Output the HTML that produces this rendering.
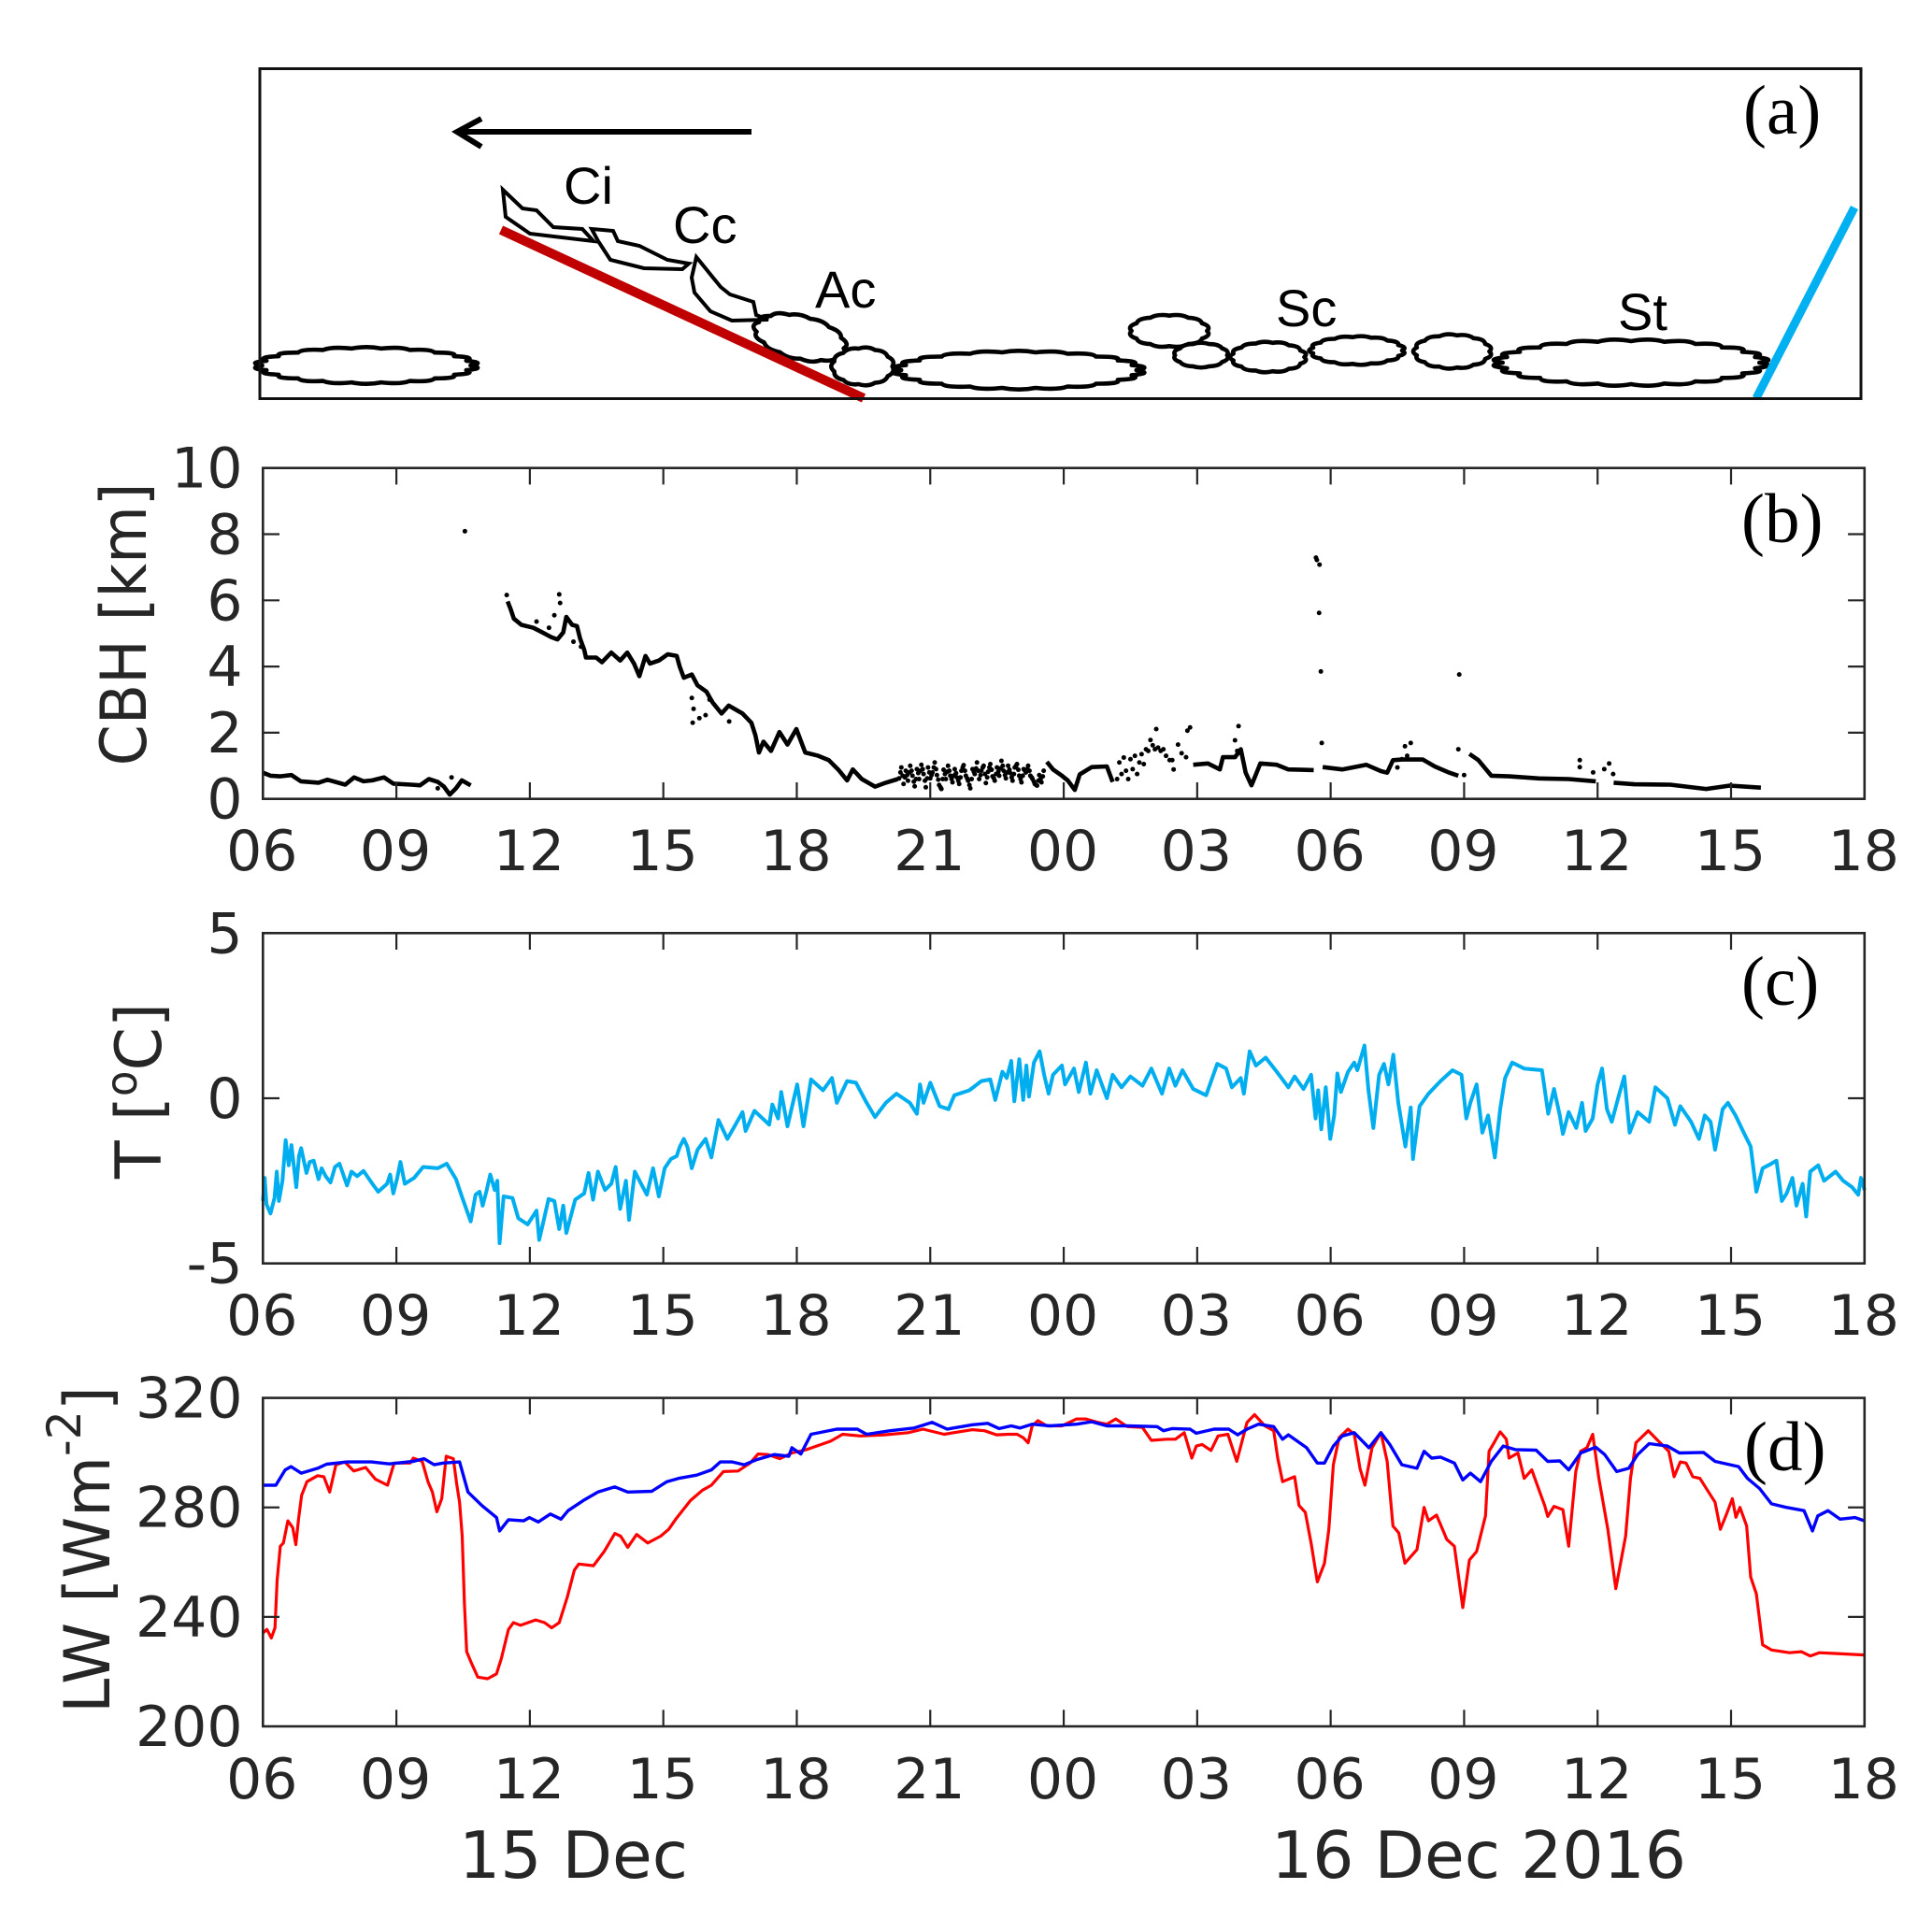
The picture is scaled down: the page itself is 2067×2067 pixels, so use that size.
<!DOCTYPE html>
<html lang="en">
<head>
<meta charset="utf-8">
<title>Cloud base height, temperature and longwave radiation, 15-16 Dec 2016</title>
<style>
html,body{margin:0;padding:0;background:#fff;}
svg{display:block;}
text{font-family:"DejaVu Sans","Liberation Sans",sans-serif;fill:#262626;}
.serif{font-family:"Liberation Serif",serif;fill:#000;}
.sketch{font-family:"Liberation Sans",sans-serif;fill:#000;}
</style>
</head>
<body>
<svg id="fig" xmlns="http://www.w3.org/2000/svg" width="2067" height="2067" viewBox="0 0 2067 2067">
  <rect x="0" y="0" width="2067" height="2067" fill="#fff"/>

  <g id="panel-a">
    <g id="clouds" fill="#fff" stroke="#000" stroke-width="4.6" stroke-linejoin="round"></g>
    <path d="M538 203L559 223L574 225L592 243L623 245L635 258L567 250L541 232Z" fill="none" stroke="#000" stroke-width="4"/>
    <path d="M633 245L656 247L661 258L684 263L714 278L737 282L730 288L689 287L653 278L640 258Z" fill="none" stroke="#000" stroke-width="4"/>
    <path d="M745 275L771 307L781 315L806 323L809 337L822 342L783 343L760 333L743 313L740 297Z" fill="none" stroke="#000" stroke-width="4"/>
    <line x1="536" y1="246" x2="924" y2="426" stroke="#c00000" stroke-width="10"/>
    <line x1="1984" y1="222" x2="1879" y2="426" stroke="#00b0f0" stroke-width="9"/>
    <path d="M804 141H490M515 127L489 141L515 157" fill="none" stroke="#000" stroke-width="6"/>
    <text class="sketch" x="603" y="218" font-size="56">Ci</text>
    <text class="sketch" x="720" y="260" font-size="56">Cc</text>
    <text class="sketch" x="872" y="329" font-size="56">Ac</text>
    <text class="sketch" x="1365" y="349" font-size="56">Sc</text>
    <text class="sketch" x="1731" y="353" font-size="56">St</text>
    <rect x="278" y="73.5" width="1713" height="353" fill="none" stroke="#111" stroke-width="3"/>
    <text class="serif" x="1865" y="143" font-size="75">(a)</text>
  </g>

  <g id="panel-b"></g>
  <g id="panel-c"></g>
  <g id="panel-d"></g>

  <text transform="translate(156,668) rotate(-90) scale(0.93,1)" text-anchor="middle" font-size="68">CBH [km]</text>
  <text transform="translate(172,1167) rotate(-90) scale(0.98,1)" text-anchor="middle" font-size="68">T [<tspan font-size="46" dy="-26">o</tspan><tspan dy="26">C]</tspan></text>
  <text transform="translate(117,1658) rotate(-90) scale(0.98,1)" text-anchor="middle" font-size="68">LW [Wm<tspan font-size="50" dy="-31">-2</tspan><tspan dy="31">]</tspan></text>

  <text class="serif" x="1863" y="580" font-size="75">(b)</text>
  <text class="serif" x="1863" y="1075" font-size="75">(c)</text>
  <text class="serif" x="1866" y="1573" font-size="75">(d)</text>

  <text x="491" y="2009" font-size="69.5">15 Dec</text>
  <text x="1360" y="2009" font-size="69.5">16 Dec 2016</text>
</svg>

<script>
// ---- shared axis labels ----
const xTickHours = [0,3,6,9,12,15,18,21,24,27,30,33,36];
const xTickLabels = ["06","09","12","15","18","21","00","03","06","09","12","15","18"];

// ---- panel b: cloud base height (hours since 06 UTC, km) ----
const cbhTicks = [0,2,4,6,8,10];
const cbhTickLabels = ["0","2","4","6","8","10"];
const cbhLineHours = [0,.17,.38,.64,.85,1.25,1.45,1.85,2.05,2.26,2.46,2.72,2.93,3.33,3.53,3.73,3.93,4.07,4.2,4.34,4.47,4.67,null,
5.5,5.57,5.64,5.81,6.08,6.28,6.48,6.62,6.75,6.82,6.95,7.06,7.13,7.22,7.26,7.49,7.62,7.83,8.03,8.19,8.34,8.46,8.6,8.7,8.9,9.1,9.3,9.37,9.46,9.64,9.77,9.97,10.11,10.31,10.47,10.78,10.98,11.07,11.15,11.25,11.42,11.61,11.79,11.99,12.19,12.46,12.72,12.93,13.13,13.26,13.46,13.76,14.0,14.27,null,
17.62,17.76,17.96,18.09,18.25,18.36,18.63,18.97,19.1,null,
20.91,21.24,21.51,21.58,21.85,21.98,22.09,22.22,22.32,22.42,22.79,23.05,23.62,null,
23.82,24.26,24.8,25.13,25.27,25.4,25.6,26.07,26.34,26.67,26.87,null,
27.12,27.32,27.61,28.01,28.68,29.35,29.96,null,
30.36,30.83,31.63,32.44,32.97,33.67];
const cbhLineKm = [.79,.7,.68,.72,.53,.49,.58,.43,.65,.53,.56,.65,.46,.43,.41,.6,.51,.37,.13,.32,.56,.41,null,
5.97,5.73,5.45,5.26,5.17,5.03,4.89,4.82,5.03,5.5,5.26,5.22,4.84,4.51,4.27,4.27,4.13,4.42,4.18,4.42,4.09,3.71,4.32,4.09,4.18,4.37,4.32,3.99,3.66,3.76,3.43,3.24,2.91,2.58,2.82,2.58,2.3,1.92,1.4,1.73,1.45,2.02,1.64,2.11,1.4,1.31,1.17,.89,.56,.89,.6,.37,.49,.6,null,
1.12,.89,.7,.56,.27,.74,.96,.98,.51,null,
1.03,1.07,.89,1.26,1.26,1.5,.79,.41,.74,1.07,1.03,.89,.87,null,
.96,.89,1.03,.84,.79,1.17,1.19,1.19,.98,.79,.7,null,
1.36,1.17,.7,.68,.62,.6,.53,null,
.49,.44,.43,.3,.4,.34];
const cbhDotHours = [4.24,3.93,4.54,5.48,6.55,6.66,6.68,6.43,6.15,6.98,7.15,9.64,9.68,9.66,9.81,9.95,10.04,10.48,
14.3,14.33,14.35,14.38,14.4,14.43,14.45,14.48,14.5,14.53,14.55,14.58,14.6,14.63,14.65,14.68,14.7,14.73,14.75,14.78,14.8,14.83,14.85,14.88,14.9,14.93,14.95,14.98,15.0,15.03,15.05,15.08,15.1,15.13,15.15,15.18,15.2,15.23,15.25,15.28,15.3,15.33,15.35,15.38,15.4,15.43,15.45,15.48,15.5,15.53,15.55,15.58,15.6,15.63,15.65,15.68,15.7,15.73,15.75,15.78,15.8,15.83,15.85,15.88,15.9,15.93,15.95,15.98,16.0,16.03,16.05,16.08,16.1,16.13,16.15,16.18,16.2,16.23,16.25,16.28,16.3,16.33,16.35,16.38,16.4,16.43,16.45,16.48,16.5,16.53,16.55,16.58,16.6,16.63,16.65,16.68,16.7,16.73,16.75,16.78,16.8,16.83,16.85,16.88,16.9,16.93,16.95,16.98,17.0,17.03,17.05,17.08,17.1,17.13,17.15,17.18,17.2,17.23,17.25,17.28,17.3,17.33,17.35,17.38,17.4,17.43,17.45,17.48,17.5,17.53,17.55,
19.2,19.25,19.3,19.35,19.4,19.45,19.5,19.55,19.6,19.65,19.7,19.75,19.8,19.85,19.9,19.95,20.0,20.05,20.08,20.12,20.18,20.24,20.3,20.38,20.44,20.47,20.57,20.65,20.75,20.78,20.84,
21.85,21.9,21.93,23.67,23.69,23.75,23.74,23.78,23.8,26.89,26.87,27.0,25.5,25.6,25.67,25.72,25.8,29.6,29.6,29.9,30.26,30.15,30.35];
const cbhDotKm = [.65,.32,8.09,6.16,5.55,6.18,5.92,5.17,5.36,4.75,4.6,3.05,2.72,2.3,2.44,2.53,3.0,2.34,
.62,.8,.95,.7,.45,.65,.85,.72,.55,.8,1.0,.85,.7,.52,.38,.6,.9,.78,.6,.85,1.03,.9,.75,.55,.35,.62,.95,.8,.62,.72,.8,.95,1.1,.9,.72,.58,.42,.35,.3,.6,.88,.75,.6,.82,1.0,.85,.7,.6,.5,.7,.9,.78,.65,.55,.45,.65,.85,.95,1.02,.85,.7,.62,.55,.42,.32,.6,.9,.82,.75,.92,1.1,.85,.6,.72,.85,.95,1.0,.75,.48,.65,.82,.95,1.05,.88,.68,.62,.55,.75,.95,.82,.7,.92,1.15,1.0,.85,.72,.62,.8,1.0,.88,.78,.65,.55,.75,.95,1.0,1.05,.88,.7,.6,.5,.7,.9,.85,.8,.9,1.0,.85,.7,.65,.6,.52,.45,.42,.4,.55,.72,.6,.5,.68,.85,
.6,1.1,.75,1.25,.85,.6,1.2,.9,1.3,.75,1.1,1.35,1.05,1.5,1.45,1.78,1.62,1.5,2.11,1.55,1.45,1.5,1.3,1.17,1.17,.89,1.64,1.38,1.26,2.06,2.16,
1.77,1.45,2.2,7.29,7.22,7.08,5.62,3.85,1.69,3.76,1.5,.72,.95,1.2,1.59,1.3,1.69,1.17,.96,.8,1.07,.9,.75];

// ---- panel c: air temperature (hours since 06 UTC, deg C) ----
const tempTicks = [-5,0,5];
const tempTickLabels = ["-5","0","5"];
const tempHours = [0,.04,.08,.17,.26,.31,.36,.44,.51,.58,.64,.75,.81,.86,.98,1.05,1.14,1.25,1.32,1.41,1.52,1.62,1.72,1.89,1.99,2.12,2.26,2.46,2.59,2.79,2.86,2.93,3.02,3.09,3.19,3.4,3.6,3.93,4.13,4.34,4.47,4.67,4.78,4.87,4.94,5.03,5.11,5.21,5.27,5.32,5.41,5.61,5.74,5.95,6.15,6.21,6.42,6.55,6.66,6.75,6.82,7.02,7.22,7.32,7.42,7.53,7.69,7.83,7.93,8.03,8.16,8.23,8.36,8.5,8.63,8.77,8.9,9.03,9.17,9.3,9.37,9.46,9.54,9.64,9.77,9.95,10.08,10.24,10.44,10.58,10.78,10.85,11.05,11.38,11.45,11.58,11.65,11.79,12.01,12.15,12.32,12.59,12.79,12.9,13.13,13.33,13.57,13.76,14.0,14.24,14.54,14.7,14.77,14.85,15.0,15.21,15.41,15.54,15.88,
16.15,16.35,16.46,16.62,16.72,16.82,16.89,17.0,17.09,17.16,17.22,17.33,17.46,17.56,17.66,17.76,17.96,18.03,18.23,18.34,18.5,18.6,18.74,18.97,19.1,19.3,19.5,19.77,19.97,20.21,20.37,20.51,20.67,20.91,21.2,21.45,21.65,21.78,21.98,22.05,22.18,22.32,22.54,22.79,23.05,23.19,23.39,23.56,23.66,23.72,23.79,23.89,23.99,24.08,24.15,24.23,24.39,24.53,24.6,24.76,24.85,24.96,25.09,25.2,25.3,25.41,25.52,25.68,25.8,25.85,26.0,26.2,26.47,26.74,26.94,27.05,27.14,27.28,27.41,27.54,27.69,27.81,27.92,28.08,28.35,28.75,28.89,29.02,29.15,29.22,29.35,29.52,29.65,29.73,29.89,30.0,30.1,30.21,30.32,30.49,30.6,30.72,30.9,31.16,31.3,31.57,31.74,31.86,32.1,32.28,32.41,32.54,32.64,32.81,32.93,33.1,33.3,33.44,33.57,33.71,33.84,34.02,34.14,34.25,34.38,34.47,34.61,34.69,34.78,34.96,35.09,35.35,35.52,35.72,35.86,35.92,36];
const tempValues = [-3.11,-2.41,-3.21,-3.49,-3.02,-2.22,-3.11,-2.5,-1.27,-2.03,-1.42,-2.69,-1.75,-1.51,-2.26,-1.93,-1.89,-2.45,-2.12,-2.36,-2.55,-2.08,-1.98,-2.64,-2.22,-2.36,-2.2,-2.59,-2.83,-2.59,-2.31,-2.88,-2.41,-1.93,-2.59,-2.41,-2.08,-2.12,-1.98,-2.45,-2.97,-3.73,-2.92,-2.83,-3.25,-2.78,-2.31,-2.78,-2.5,-4.39,-2.97,-3.02,-3.63,-3.82,-3.4,-4.29,-3.05,-3.11,-3.96,-3.25,-4.08,-3.07,-2.88,-2.26,-3.07,-2.22,-2.78,-2.59,-2.08,-3.35,-2.5,-3.68,-2.22,-2.59,-2.92,-2.12,-2.97,-2.12,-1.84,-1.75,-1.47,-1.23,-1.47,-2.12,-1.56,-1.23,-1.79,-.66,-1.23,-.9,-.42,-.99,-.38,-.8,-.19,-.61,.19,-.85,.42,-.85,.57,.24,.61,-.14,.52,.47,-.14,-.57,-.14,.14,-.14,-.47,.42,-.14,.47,-.24,-.33,.09,.24,
.52,.57,-.05,.8,.61,1.13,-.09,1.18,-.05,.99,.05,1.08,1.42,.71,.14,.71,.99,.42,.9,.19,1.08,.14,.85,0,.71,.33,.66,.38,.9,.14,.9,.38,.85,.28,.09,1.04,.9,.33,.61,.14,1.42,.99,1.23,.8,.33,.66,.28,.71,-.61,.24,-.94,.33,-1.23,-.52,.75,.19,.8,1.08,.85,1.6,.24,-.9,.71,1.04,.42,1.32,-.14,-1.46,-.28,-1.84,-.24,.14,.52,.85,.71,-.61,-.14,.42,-1.04,-.52,-1.79,-.33,.61,1.08,.9,.85,-.47,.28,-.52,-1.08,-.42,-.9,-.14,-.99,-.61,.42,.9,-.33,-.71,.14,.66,-1.04,-.42,-.71,.33,0,-.8,-.24,-.71,-1.23,-.52,-.71,-1.56,-.33,-.14,-.52,-1.08,-1.46,-2.83,-2.12,-2.03,-1.89,-3.11,-2.88,-2.41,-3.25,-2.59,-3.58,-2.22,-2.03,-2.5,-2.22,-2.5,-2.69,-2.92,-2.41,-2.78];

// ---- panel d: longwave radiation (hours since 06 UTC, W m-2) ----
const lwTicks = [200,240,280,320];
const lwTickLabels = ["200","240","280","320"];
const lwRedHours = [0,.09,.19,.27,.32,.39,.46,.56,.67,.74,.8,.87,.99,1.23,1.37,1.5,1.64,1.84,2.04,2.31,2.53,2.8,2.95,3.31,3.38,3.58,3.71,3.81,3.91,4.02,4.12,4.28,4.36,4.42,4.48,4.53,4.58,4.69,4.83,5.05,5.25,5.36,5.52,5.63,5.79,6.13,6.33,6.49,6.66,6.84,7.0,7.1,7.43,7.67,7.91,8.04,8.2,8.4,8.65,8.94,9.12,9.28,9.61,9.88,10.08,10.35,10.68,10.95,11.13,11.35,11.62,11.89,12.22,12.76,13.03,13.43,13.97,14.5,14.84,15.31,15.95,16.22,16.49,16.75,16.95,17.09,17.2,17.29,17.42,17.62,17.96,18.29,18.5,18.76,18.97,19.17,19.43,19.77,19.97,20.31,20.51,20.71,20.88,20.98,21.11,21.31,21.47,21.69,21.89,22.05,22.12,22.29,22.52,22.72,22.81,22.92,23.19,23.29,23.43,23.56,23.7,23.86,23.96,24.06,24.19,24.39,24.53,24.66,24.77,24.93,25.13,25.27,25.4,25.53,25.67,25.94,26.1,26.2,26.38,26.61,26.78,26.97,27.12,27.28,27.48,27.56,27.65,27.81,27.95,28.01,28.21,28.35,28.52,28.81,28.88,29.02,29.22,29.35,29.51,29.62,29.76,29.89,30.03,30.23,30.41,30.63,30.74,30.86,31.14,31.37,31.6,31.72,31.86,31.99,32.14,32.3,32.64,32.76,32.9,33.03,33.11,33.2,33.35,33.44,33.57,33.71,33.91,34.31,34.58,34.78,34.98,35.38,36];
const lwRedValues = [234.1,235.4,232.3,236,253.4,265.8,267,275.1,272.6,266.4,275.7,284.4,289.4,291.6,291.2,285.6,295.6,296.6,293.3,294.6,290.3,288.1,296.2,296.2,298,296.8,289.4,285.6,278.4,283.2,298.7,297.8,288.1,281.9,269.5,244.7,227.3,223,218,217.4,219.2,224.8,235.4,237.9,236.9,238.9,237.9,236,237.9,247.2,257.1,259.3,258.7,263.9,270.5,269.5,265.4,270.1,267,269.5,272,275.7,282.5,286.3,288.1,293.1,293.3,296.2,299.5,299.3,297.8,299.9,301.1,304.2,306.7,306.1,306.5,307.3,308.6,306.7,308.4,308,306.5,306.7,306.7,305.5,303.6,309.8,311.7,309.8,309.8,312.3,312.3,311.1,310.4,312.3,309.5,309.2,304.5,304.9,304.9,307.3,298,302.4,303,300.8,306.1,306.7,296.8,306.7,311.1,313.9,309.8,308,298,289.4,291.2,280.7,278.2,267,252.8,259.6,272,295.6,305.5,308.6,306.7,294.3,288.1,301.8,307.3,296.8,273.2,270.7,259.6,264.6,280,275.1,277.2,268.3,265.8,243.4,260.8,263.9,276.9,300.5,303,307.6,304.9,298,299.9,290.6,293.7,280.7,276.7,280.4,279.2,265.8,293.1,300.5,301.8,306.7,290.6,272,250.3,269.5,290.6,303.6,308,304.2,300.5,291.2,296.6,296.2,291.2,290.6,281.9,272,277.6,283.2,276.4,280,273.2,254.6,248.4,229.8,227.9,226.9,227.3,225.7,226.9,226.6,226.1];
const lwBlueHours = [0,.29,.5,.63,.86,1.23,1.43,1.9,2.44,2.84,3.38,3.62,3.85,4.05,4.42,4.61,4.92,5.25,5.32,5.52,5.86,5.99,6.19,6.46,6.7,6.86,7.2,7.53,7.91,8.2,8.74,9.08,9.34,9.75,10.08,10.28,10.55,10.82,11.09,11.49,11.82,11.89,12.09,12.32,12.9,13.36,13.57,14.1,14.64,15.04,15.38,15.95,16.29,16.55,16.82,17.02,17.29,17.69,18.29,18.63,18.97,19.43,20.1,20.24,20.44,20.84,20.98,21.38,21.71,21.91,22.12,22.38,22.72,22.92,23.05,23.46,23.7,23.86,24.06,24.26,24.53,24.86,25.13,25.33,25.6,25.94,26.1,26.27,26.47,26.78,26.97,27.14,27.37,27.61,27.88,28.15,28.62,28.88,29.15,29.35,29.62,29.96,30.16,30.43,30.7,30.9,31.16,31.57,31.84,32.38,32.64,33.17,33.37,33.64,33.91,34.24,34.64,34.83,34.95,35.18,35.45,35.79,36];
const lwBlueValues = [288.1,288.1,293.7,294.9,292.5,294.3,295.8,296.6,296.6,295.9,296.8,297.8,295.6,296.2,296.6,285.6,280.7,276.3,271.4,275.5,275.1,276.3,274.7,277.6,275.7,278.8,282.5,285.6,287.5,285.6,285.9,289.4,290.6,291.8,293.7,296.6,296.6,295.6,297.4,299.3,298.7,301.8,299.5,306.7,308.6,308.6,306.7,308,309,311.1,308.6,310.2,310.7,308.8,309.8,309,310.4,309.8,310.4,311.3,309.8,309.8,309.5,308,308.8,308.6,307.1,308.6,308.6,306.5,308.6,310.4,309.5,304.9,306.5,301.8,296.2,296.2,302.4,306.1,307.3,301.8,307.3,303,295.6,294.3,300.5,298,298.4,296.2,290,292.5,289.4,296.8,302.4,301.1,300.9,296.8,297,293.7,299.9,302,299.3,293.1,294.3,299.3,303.3,302.4,299.9,300.1,296.8,294.9,290.6,286.9,281.3,280,278.8,271.4,276.9,278.8,275.7,276.3,275.1];

// ---- axis helpers ----
const SVGNS = 'http://www.w3.org/2000/svg';
const X0 = 281.3, X1 = 1994.8, HOURS = 36;
const TICK = 17.7;
const INK = '#262626';
function xScale(h){ return X0 + (h / HOURS) * (X1 - X0); }
function yScaleFor(vmin, vmax, top, bottom){
  return function(v){ return bottom - (v - vmin) / (vmax - vmin) * (bottom - top); };
}
function make(tag, attrs, parent){
  const el = document.createElementNS(SVGNS, tag);
  for (const k in attrs) el.setAttribute(k, attrs[k]);
  parent.appendChild(el);
  return el;
}
function linePath(hours, values, y){
  let d = '', pen = false;
  for (let i = 0; i < hours.length; i++){
    if (hours[i] === null || values[i] === null){ pen = false; continue; }
    d += (pen ? 'L' : 'M') + xScale(hours[i]).toFixed(1) + ' ' + y(values[i]).toFixed(1);
    pen = true;
  }
  return d;
}
function drawAxes(group, top, bottom, y, yTicks, yLabels, labelBase, panelKey){
  const box = make('rect', {x:X0, y:top, width:X1-X0, height:bottom-top, fill:'none', stroke:INK, 'stroke-width':2.6}, group);
  
  
  xTickHours.forEach(function(h, i){
    const x = xScale(h);
    if (i > 0 && i < xTickHours.length - 1){
      const t1 = make('line', {x1:x, x2:x, y1:bottom, y2:bottom-TICK, stroke:INK, 'stroke-width':2.2}, group);
      
      
      const t2 = make('line', {x1:x, x2:x, y1:top, y2:top+TICK, stroke:INK, 'stroke-width':2.2}, group);
      
      
    }
    const lab = make('text', {x:x-1, y:labelBase, 'text-anchor':'middle', 'font-size':60}, group);
    lab.textContent = xTickLabels[i];
    
    
  });
  yTicks.forEach(function(v, i){
    const py = y(v);
    if (i > 0 && i < yTicks.length - 1){
      const t1 = make('line', {x1:X0, x2:X0+TICK, y1:py, y2:py, stroke:INK, 'stroke-width':2.2}, group);
      
      
      const t2 = make('line', {x1:X1, x2:X1-TICK, y1:py, y2:py, stroke:INK, 'stroke-width':2.2}, group);
      
      
    }
    const lab = make('text', {x:259.5, y:py+21, 'text-anchor':'end', 'font-size':60}, group);
    lab.textContent = yLabels[i];
    
    
  });
}

// ---- panel b ----
(function(){
  const g = document.getElementById('panel-b');
  const y = yScaleFor(0, 10, 500.7, 854.7);
  const line = make('path', {d:linePath(cbhLineHours, cbhLineKm, y), fill:'none', stroke:'#000', 'stroke-width':4.6, 'stroke-linejoin':'round'}, g);
  
  
  cbhDotHours.forEach(function(h, i){
    const c = make('circle', {cx:xScale(h), cy:y(cbhDotKm[i]), r:2.5, fill:'#000'}, g);
    
    
  });
  drawAxes(g, 500.7, 854.7, y, cbhTicks, cbhTickLabels, 931, 'cbh');
})();

// ---- panel c ----
(function(){
  const g = document.getElementById('panel-c');
  const y = yScaleFor(-5, 5, 998.3, 1351.7);
  const line = make('path', {d:linePath(tempHours, tempValues, y), fill:'none', stroke:'#00aeef', 'stroke-width':4, 'stroke-linejoin':'round'}, g);
  
  
  drawAxes(g, 998.3, 1351.7, y, tempTicks, tempTickLabels, 1428, 'temperature');
})();

// ---- panel d ----
(function(){
  const g = document.getElementById('panel-d');
  const y = yScaleFor(200, 320, 1495.6, 1847);
  const red = make('path', {d:linePath(lwRedHours, lwRedValues, y), fill:'none', stroke:'#ff0000', 'stroke-width':3.2, 'stroke-linejoin':'round'}, g);
  
  
  const blue = make('path', {d:linePath(lwBlueHours, lwBlueValues, y), fill:'none', stroke:'#0000ff', 'stroke-width':3.4, 'stroke-linejoin':'round'}, g);
  
  
  drawAxes(g, 1495.6, 1847, y, lwTicks, lwTickLabels, 1924, 'longwave');
})();

// ---- panel a: scalloped cloud outlines (sketch, not data) ----
(function(){
  const g = document.getElementById('clouds');
  const shapes = [
    [392,391,116,19,22,0],[856,361,50,23,13,14],[923,392,33,20,11,0],[1090,396,131,20,22,0],
    [1251,354,42,17,12,0],[1285,380,29,13,10,0],[1357,382,40,16,13,0],[1452,375,50,15,15,0],
    [1554,376,41,18,13,0],[1745,388,143,24,24,0]
  ];
  shapes.forEach(function(s){
    const cx=s[0], cy=s[1], rx=s[2], ry=s[3], n=s[4], rot=s[5]*Math.PI/180;
    function pt(a, k){
      const px = rx*k*Math.cos(a), py = ry*k*Math.sin(a);
      return [(cx+px*Math.cos(rot)-py*Math.sin(rot)).toFixed(1), (cy+px*Math.sin(rot)+py*Math.cos(rot)).toFixed(1)];
    }
    let d = '';
    for (let i = 0; i < n; i++){
      const a0 = i/n*2*Math.PI, a1 = (i+1)/n*2*Math.PI, am = (a0+a1)/2;
      const p0 = pt(a0, 0.96), c = pt(am, 1.12), p1 = pt(a1, 0.96);
      if (i === 0) d += 'M' + p0[0] + ' ' + p0[1];
      d += 'Q' + c[0] + ' ' + c[1] + ' ' + p1[0] + ' ' + p1[1];
    }
    const el = make('path', {d:d + 'Z'}, g);
    
    
  });
})();
</script>
</body>
</html>
